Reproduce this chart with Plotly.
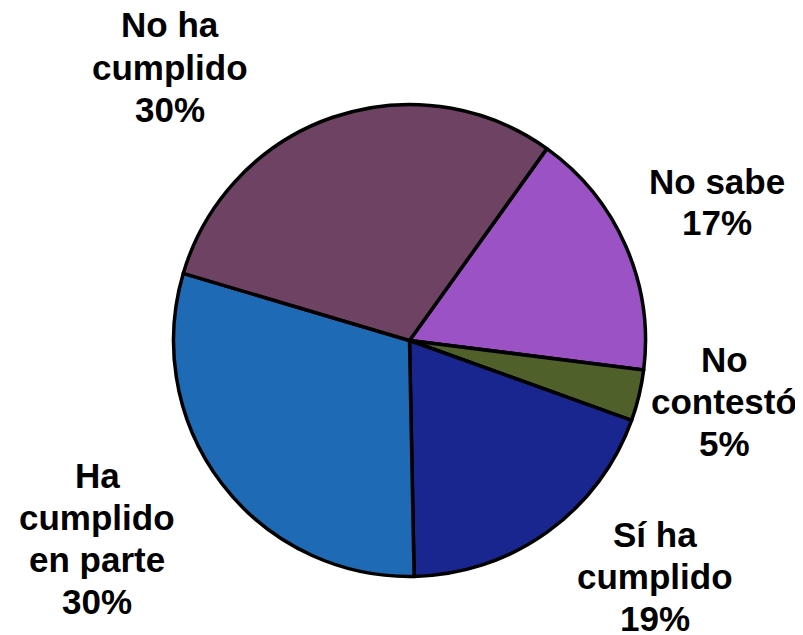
import plotly.graph_objects as go

# slices clockwise, starting at the No sabe edge
labels = ["No sabe", "No contestó", "Sí ha cumplido", "Ha cumplido en parte", "No ha cumplido"]
values = [17.1, 3.5, 19.2, 29.9, 30.3]
pct_text = ["17%", "5%", "19%", "30%", "30%"]
label_lines = [["No sabe"], ["No", "contestó"], ["Sí ha", "cumplido"],
               ["Ha", "cumplido", "en parte"], ["No ha", "cumplido"]]

colors = ["#9a52c4", "#50602a", "#1a2690", "#1f6ab4", "#6e4262"]

# label block centres, page pixels
label_pos = [(717, 202), (724, 401), (655, 576), (97, 538), (170, 67)]
line_gap = 42

# the page body has an 8px margin, so the figure is a bit smaller than the window
OFF = 8
W, H = 795, 627


def px_x(x):
    return (x - OFF) / W


def px_y(y):
    return 1 - (y - OFF) / H


cx, cy, r = 409.5, 340.5, 236

fig = go.Figure(go.Pie(
    labels=labels,
    values=values,
    sort=False,
    direction="clockwise",
    rotation=35.6,
    textinfo="none",
    hoverinfo="label+percent",
    marker=dict(colors=colors, line=dict(color="black", width=3.5)),
    domain=dict(x=[px_x(cx - r), px_x(cx + r)], y=[px_y(cy + r), px_y(cy - r)]),
    showlegend=False,
))

for lines, pct, (bx, by) in zip(label_lines, pct_text, label_pos):
    rows = lines + [pct]
    n = len(rows)
    for i, row in enumerate(rows):
        ly = by + (i - (n - 1) / 2) * line_gap
        fig.add_annotation(
            x=px_x(bx), y=px_y(ly), xref="paper", yref="paper",
            text="<b>" + row + "</b>",
            showarrow=False, xanchor="center", yanchor="middle",
            font=dict(family="Liberation Sans, Arial", size=35, color="black"),
        )

fig.update_layout(
    width=W, height=H,
    margin=dict(l=0, r=0, t=0, b=0),
    paper_bgcolor="white",
    plot_bgcolor="white",
)

fig.write_html("out.html")
